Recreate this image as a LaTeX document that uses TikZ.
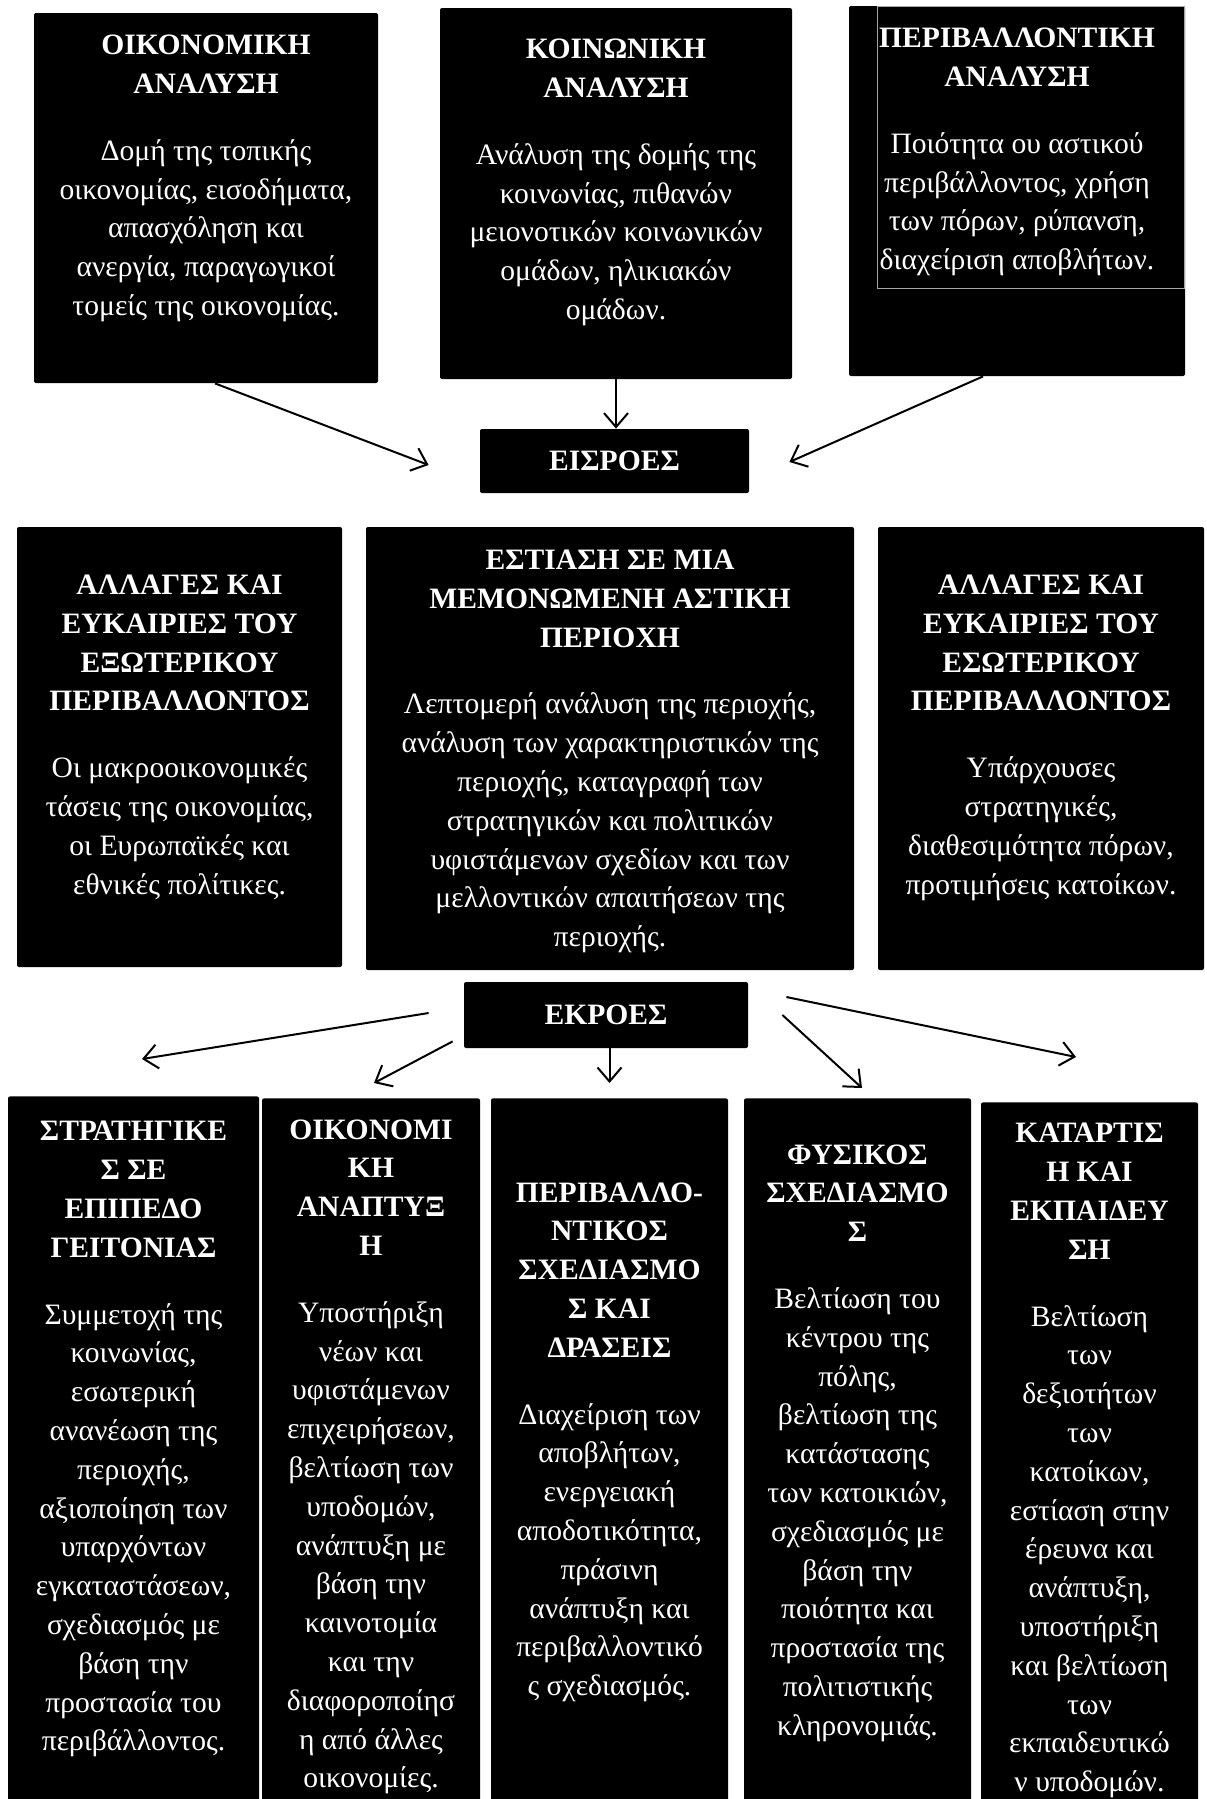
\documentclass[tikz,border=0pt]{standalone}
\usepackage{fontspec}
\setmainfont{Liberation Serif}
\usetikzlibrary{positioning,arrows.meta,calc}
\begin{document}
\begin{tikzpicture}[x=0.5pt,y=-0.5pt,
    blk/.style={rectangle,fill=black,rounded corners=1pt,inner sep=0pt},
    txt/.style={text=white,align=center,inner sep=0pt,font=\fontsize{14.8}{19.4}\selectfont},
    tag/.style={blk,text=white,font=\fontsize{14.8}{19.4}\selectfont\bfseries},
    arr/.style={-{Straight Barb[length=7pt,width=12pt]},line width=1pt}]
\useasboundingbox (0,0) rectangle (1206,1799);

% analyses
\node[blk,minimum width=172pt,minimum height=185pt] at (206,198) (a) {};
\node[blk,minimum width=176pt,minimum height=185.5pt] at (616,193.5) (b) {};
\node[blk,minimum width=168pt,minimum height=185pt] at (1017,191) (c) {};
\draw[gray!70,line width=0.5pt] (877,6) rectangle (1184,288);

\node[txt,below=11pt of a.north] (a-txt) {\textbf{ΟΙΚΟΝΟΜΙΚΗ}\\\textbf{ΑΝΑΛΥΣΗ}\\[14pt]
    Δομή της τοπικής\\οικονομίας, εισοδήματα,\\απασχόληση και\\ανεργία, παραγωγικοί\\τομείς της οικονομίας.};
\node[txt,below=15.5pt of b.north] (b-txt) {\textbf{ΚΟΙΝΩΝΙΚΗ}\\\textbf{ΑΝΑΛΥΣΗ}\\[14pt]
    Ανάλυση της δομής της\\κοινωνίας, πιθανών\\μειονοτικών κοινωνικών\\ομάδων, ηλικιακών\\ομάδων.};
\node[txt,below=11pt of c.north] (c-txt) {\textbf{ΠΕΡΙΒΑΛΛΟΝΤΙΚΗ}\\\textbf{ΑΝΑΛΥΣΗ}\\[14pt]
    Ποιότητα ου αστικού\\περιβάλλοντος, χρήση\\των πόρων, ρύπανση,\\διαχείριση αποβλήτων.};

\node[tag,minimum width=134.5pt,minimum height=32pt] at (614.5,461) (in) {ΕΙΣΡΟΕΣ};

\draw[arr] ($(a.south)+(9,0)$) -- ($(in.west)+(-51,4)$);
\draw[arr] (b.south) -- (b.south |- in.north);
\draw[arr] ($(c.south)+(-34,0)$) -- ($(in.east)+(40,1)$);

% focus area
\node[blk,minimum width=162.5pt,minimum height=220pt] at (179.5,747) (m1) {};
\node[blk,minimum width=244pt,minimum height=221.5pt] at (610,748.5) (m2) {};
\node[blk,minimum width=163pt,minimum height=221.5pt] at (1041,748.5) (m3) {};

\node[txt,below=24pt of m1.north] (m1-txt) {\textbf{ΑΛΛΑΓΕΣ ΚΑΙ}\\\textbf{ΕΥΚΑΙΡΙΕΣ ΤΟΥ}\\\textbf{ΕΞΩΤΕΡΙΚΟΥ}\\\textbf{ΠΕΡΙΒΑΛΛΟΝΤΟΣ}\\[14pt]
    Οι μακροοικονομικές\\τάσεις της οικονομίας,\\οι Ευρωπαϊκές και\\εθνικές πολίτικες.};
\node[txt,below=11.5pt of m2.north] (m2-txt) {\textbf{ΕΣΤΙΑΣΗ ΣΕ ΜΙΑ}\\\textbf{ΜΕΜΟΝΩΜΕΝΗ ΑΣΤΙΚΗ}\\\textbf{ΠΕΡΙΟΧΗ}\\[14pt]
    Λεπτομερή ανάλυση της περιοχής,\\ανάλυση των χαρακτηριστικών της\\περιοχής, καταγραφή των\\στρατηγικών και πολιτικών\\υφιστάμενων σχεδίων και των\\μελλοντικών απαιτήσεων της\\περιοχής.};
\node[txt,below=24pt of m3.north] (m3-txt) {\textbf{ΑΛΛΑΓΕΣ ΚΑΙ}\\\textbf{ΕΥΚΑΙΡΙΕΣ ΤΟΥ}\\\textbf{ΕΣΩΤΕΡΙΚΟΥ}\\\textbf{ΠΕΡΙΒΑΛΛΟΝΤΟΣ}\\[14pt]
    Υπάρχουσες\\στρατηγικές,\\διαθεσιμότητα πόρων,\\προτιμήσεις κατοίκων.};

\node[tag,minimum width=142pt,minimum height=33pt] at (606,1015) (out) {ΕΚΡΟΕΣ};

% outputs
\node[blk,anchor=north,minimum width=125.5pt,minimum height=360pt] at (133.5,1096) (d1) {};
\node[blk,anchor=north,minimum width=109pt,minimum height=360pt] at (371,1098) (d2) {};
\node[blk,anchor=north,minimum width=118.5pt,minimum height=360pt] at (609.5,1098) (d3) {};
\node[blk,anchor=north,minimum width=113.5pt,minimum height=360pt] at (857.5,1098) (d4) {};
\node[blk,anchor=north,minimum width=108.5pt,minimum height=360pt] at (1089.5,1102) (d5) {};

\node[txt,below=12.5pt of d1.north] (d1-txt) {\textbf{ΣΤΡΑΤΗΓΙΚΕ}\\\textbf{Σ ΣΕ}\\\textbf{ΕΠΙΠΕΔΟ}\\\textbf{ΓΕΙΤΟΝΙΑΣ}\\[14pt]
    Συμμετοχή της\\κοινωνίας,\\εσωτερική\\ανανέωση της\\περιοχής,\\αξιοποίηση των\\υπαρχόντων\\εγκαταστάσεων,\\σχεδιασμός με\\βάση την\\προστασία του\\περιβάλλοντος.};
\node[txt,below=10.5pt of d2.north] (d2-txt) {\textbf{ΟΙΚΟΝΟΜΙ}\\\textbf{ΚΗ}\\\textbf{ΑΝΑΠΤΥΞ}\\\textbf{Η}\\[14pt]
    Υποστήριξη\\νέων και\\υφιστάμενων\\επιχειρήσεων,\\βελτίωση των\\υποδομών,\\ανάπτυξη με\\βάση την\\καινοτομία\\και την\\διαφοροποίησ\\η από άλλες\\οικονομίες.};
\node[txt,below=42pt of d3.north] (d3-txt) {\textbf{ΠΕΡΙΒΑΛΛΟ-}\\\textbf{ΝΤΙΚΟΣ}\\\textbf{ΣΧΕΔΙΑΣΜΟ}\\\textbf{Σ ΚΑΙ}\\\textbf{ΔΡΑΣΕΙΣ}\\[14pt]
    Διαχείριση των\\αποβλήτων,\\ενεργειακή\\αποδοτικότητα,\\πράσινη\\ανάπτυξη και\\περιβαλλοντικό\\ς σχεδιασμός.};
\node[txt,below=23pt of d4.north] (d4-txt) {\textbf{ΦΥΣΙΚΟΣ}\\\textbf{ΣΧΕΔΙΑΣΜΟ}\\\textbf{Σ}\\[14pt]
    Βελτίωση του\\κέντρου της\\πόλης,\\βελτίωση της\\κατάστασης\\των κατοικιών,\\σχεδιασμός με\\βάση την\\ποιότητα και\\προστασία της\\πολιτιστικής\\κληρονομιάς.};
\node[txt,below=10.5pt of d5.north] (d5-txt) {\textbf{ΚΑΤΑΡΤΙΣ}\\\textbf{Η ΚΑΙ}\\\textbf{ΕΚΠΑΙΔΕΥ}\\\textbf{ΣΗ}\\[14pt]
    Βελτίωση\\των\\δεξιοτήτων\\των\\κατοίκων,\\εστίαση στην\\έρευνα και\\ανάπτυξη,\\υποστήριξη\\και βελτίωση\\των\\εκπαιδευτικώ\\ν υποδομών.};

\draw[arr] ($(out.west)+(-35,-2)$) -- ($(d1.north)+(8.5,-37)$);
\draw[arr] ($(out.south west)+(-11,-7)$) -- ($(d2.north)+(3,-15)$);
\draw[arr] (out.south -| d3.north) -- ($(d3.north)+(0,-15)$);
\draw[arr] ($(out.east)+(34,0)$) -- ($(d4.north)+(4.5,-10)$);
\draw[arr] ($(out.east)+(38,-18)$) -- ($(d5.north)+(-13.5,-45)$);
\end{tikzpicture}
\end{document}
